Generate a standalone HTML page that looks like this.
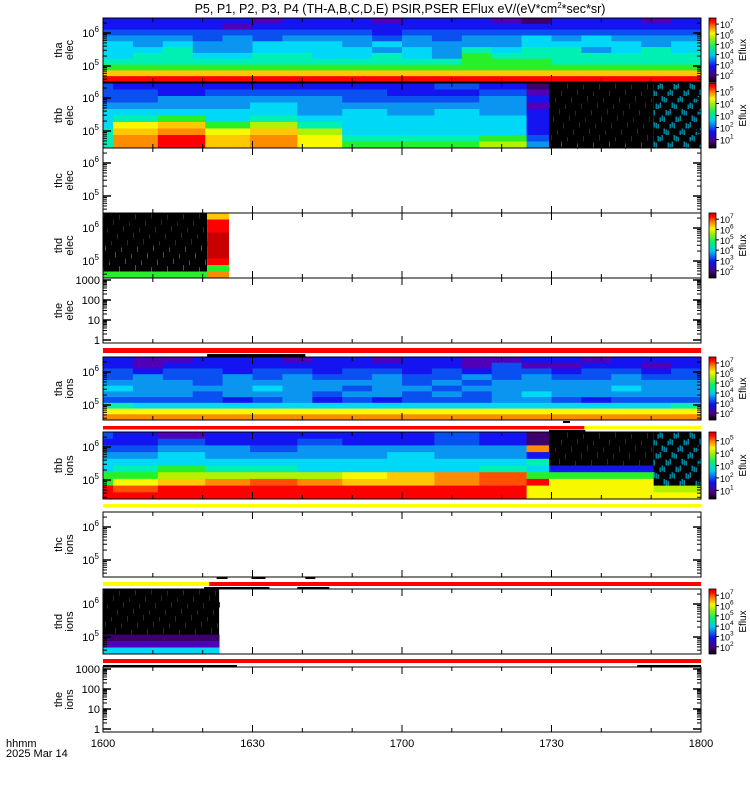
<!DOCTYPE html>
<html><head><meta charset="utf-8">
<style>
html,body{margin:0;padding:0;background:#fff;}
svg{display:block;font-family:"Liberation Sans",sans-serif;}
</style></head>
<body>
<svg id="chart" width="750" height="800" viewBox="0 0 750 800" xmlns="http://www.w3.org/2000/svg">
<rect x="0" y="0" width="750" height="800" fill="#fff"/>
<text x="400" y="13" font-size="12.5" text-anchor="middle" fill="#000">P5, P1, P2, P3, P4 (TH-A,B,C,D,E) PSIR,PSER EFlux eV/(eV*cm<tspan font-size="8" dy="-5">2</tspan><tspan dy="5">*sec*sr)</tspan></text>
</svg>
<script>
// ---- data arrays ----
const xTickLabels = ["1600","1630","1700","1730","1800"];
const xTickMinutes = [0,30,60,90,120];
const panelNames = [["tha","elec"],["thb","elec"],["thc","elec"],["thd","elec"],["the","elec"],["tha","ions"],["thb","ions"],["thc","ions"],["thd","ions"],["the","ions"]];
const edges20 = [0,6,12,18,24,30,36,42,48,54,60,66,72,78,84,90,96,102,108,114,120];
const edgesB = [0,2,11,20.5,29.5,39,48,57,66.5,75.5,85,89.5,110.5,120];
const edgesD = [0,20.9,25.2];
const edgesDI = [0,23.3];
const thaElecRows = [
"33333233323332133323",
"33332333333333333333",
"44444444434444444444",
"55545455545455656555",
"65655666565555666656",
"66755666656576775676",
"67766776676587777777",
"77777777777788877777",
"88888888888888888888",
"bbbbbbbbbbbbbbbbbbbb",
"eeeeeeeeeeeeeeeeeeee"];
const thbElecRows = [
"43333333431zx",
"44344443342zx",
"44555544453zx",
"55556555552zx",
"66666565653zx",
"67867666663zx",
"6ab89766663zx",
"7bcab966663zx",
"7cebca77784zx",
"7cebca88895yx"];
const thdElecRows = ["zb","ze","ze","zf","zf","yf","yf","ye","y8","8c"];
const thaIonRows = [
"32233323323322332333",
"32333333333324223323",
"43443443443434434434",
"45445454454454544544",
"55545555554545555555",
"65555655455455555655",
"55545554554545655555",
"44443453434445543444",
"76666666666666666667",
"aaaaaaaaaaaaaaaaaaaa",
"cccccccccccccccccccc"];
const thbIonRows = [
"43233333431zx",
"33433433431zx",
"4455455555czx",
"55655556553zx",
"66666666667zx",
"67877666676wx",
"889999abcd88x",
"8abcdcbbcdeax",
"edeeeeeeeeaa9",
"eeeeeeeeeeaaa"];
const thdIonRows = ["z","z","z","z","z","z","z","1","2","6"];
const cbElecA = [2,3,4,5,6,7], cbElecB = [1,2,3,4,5];
const logTicks = [1,10,100,1000];
// ---- layout ----
const X0=103, X1=701;
const xs = m => X0 + (X1-X0)*m/120;
const panels = [
 {y:18,h:64,type:"spec",rows:thaElecRows,edges:edges20,cb:{exps:cbElecA,top:7.6,bot:1.3}},
 {y:83,h:65,type:"spec",rows:thbElecRows,edges:edgesB,cb:{exps:cbElecB,top:5.7,bot:0.3}},
 {y:148,h:65,type:"spec",rows:null},
 {y:213,h:65,type:"spec",rows:thdElecRows,edges:edgesD,cb:{exps:cbElecA,top:7.6,bot:1.3}},
 {y:278,h:65,type:"line"},
 {y:357,h:63,type:"spec",rows:thaIonRows,edges:edges20,cb:{exps:cbElecA,top:7.6,bot:1.3}},
 {y:432,h:67,type:"spec",rows:thbIonRows,edges:edgesB,cb:{exps:cbElecB,top:5.7,bot:0.3}},
 {y:512,h:65,type:"spec",rows:null},
 {y:589,h:65,type:"spec",rows:thdIonRows,edges:edgesDI,cb:{exps:cbElecA,top:7.6,bot:1.3}},
 {y:667,h:65,type:"line"}];
const pal={'0':'#000000','1':'#3c0068','2':'#5000b8','3':'#1414f0','4':'#0a50f0','5':'#0a96f0','6':'#00d8f8','7':'#00f0b4','8':'#28f028','9':'#b4f000','a':'#f8f800','b':'#ffc800','c':'#ff8c00','d':'#ff5000','e':'#ff0000','f':'#c80000','w':'#1414f0'};
const streak={'z':'#4a0a80','x':'#00c8f0','y':'#1050f0'};
const NS="http://www.w3.org/2000/svg";
const svg=document.getElementById('chart');
function el(tag,attrs,parent){const e=document.createElementNS(NS,tag);for(const k in attrs)e.setAttribute(k,attrs[k]);(parent||svg).appendChild(e);return e;}
function supLabel(x,y,base,exp,anchor,parent,fs,ss){
 const t=el('text',{x:x,y:y,'font-size':fs||11,'text-anchor':anchor,fill:'#000'},parent);
 t.appendChild(document.createTextNode(base));
 const s=el('tspan',{'font-size':ss||8,dy:-5},t);s.textContent=exp;return t;}
// strips
const strips=[
 [348,5,0,120,'#ff0000'],[354,2.5,20.9,40.6,'#000'],
 [426,3.5,0,96.6,'#ff0000'],[426,3.5,96.6,120,'#ffff00'],[421,2,92.3,93.7,'#000'],[430,2,89.5,96.8,'#000'],
 [504,3.5,0,120,'#ffff00'],[577,2,22.8,25,'#000'],[577,2,29.8,32.6,'#000'],[577,2,40.6,42.6,'#000'],
 [582,4,0,21.3,'#ffff00'],[582,4,21.3,120,'#ff0000'],[587,2,20.3,33.4,'#000'],[587,2,39,45.4,'#000'],
 [659,4,0,120,'#ff0000'],[665,2,0,26.9,'#000'],[665,2,107.2,120,'#000']];
const sg=el('g',{});


strips.forEach(s=>{const r=el('rect',{x:xs(s[2]),y:s[0],width:xs(s[3])-xs(s[2]),height:s[1],fill:s[4]},sg);
 
 });
panels.forEach((p,pi)=>{
 const g=el('g',{});
 
 
 if(p.rows){
  const n=p.rows.length, rh=p.h/n;
  p.rows.forEach((row,ri)=>{
   for(let c=0;c<row.length;c++){
    const ch=row[c], xa=xs(p.edges[c]), xb=xs(p.edges[c+1]), ya=p.y+ri*rh;
    if(streak[ch]){
     el('rect',{x:xa,y:ya,width:xb-xa,height:rh+0.5,fill:'#000'},g);
     const dens = ch==='x'?3:1;
     for(let k=0;xa+k*2<xb;k++){ if(((k*7+ri*5+c*3)%8)<dens){el('rect',{x:xa+k*2,y:ya+((k+ri)%3),width:1,height:rh-1,fill:streak[ch]},g);} }
    } else {
     const r=el('rect',{x:xa,y:ya,width:xb-xa+0.4,height:rh+0.5,fill:pal[ch]},g);
     
     
    }
   }});
 }
 el('rect',{x:X0,y:p.y,width:X1-X0,height:p.h,fill:'none',stroke:'#000','stroke-width':1},g);
 for(let m=0;m<=120;m+=10){const x=xs(m),L=(m%30===0)?7:4;
  el('line',{x1:x,x2:x,y1:p.y+p.h,y2:p.y+p.h-L,stroke:'#000'},g);
  el('line',{x1:x,x2:x,y1:p.y,y2:p.y+L,stroke:'#000'},g);}
 if(p.type==='spec'){
  const dec=33, y6=p.y+15, y5=p.y+48;
  [[y6,'10','6'],[y5,'10','5']].forEach(t=>{supLabel(X0-4,t[0]+4,t[1],t[2],'end',g);
   el('line',{x1:X0,x2:X0+8,y1:t[0],y2:t[0],stroke:'#000','stroke-width':1.5},g);
   el('line',{x1:X1,x2:X1-8,y1:t[0],y2:t[0],stroke:'#000','stroke-width':1.5},g);});
  [[y6,1],[y5,1],[y5+dec,0]].forEach(b=>{for(let k=2;k<=9;k++){const yy=b[0]-dec*Math.log10(k);
   if(yy>p.y+1&&yy<p.y+p.h-1){el('line',{x1:X0,x2:X0+4,y1:yy,y2:yy,stroke:'#000'},g);el('line',{x1:X1,x2:X1-4,y1:yy,y2:yy,stroke:'#000'},g);}}});
 } else {
  const yOf=v=>p.y+p.h-3-20*Math.log10(v);
  logTicks.forEach(v=>{const yy=yOf(v);
   const t=el('text',{x:X0-3,y:yy+4,'font-size':11,'text-anchor':'end',fill:'#000'},g);t.textContent=String(v);
   el('line',{x1:X0,x2:X0+8,y1:yy,y2:yy,stroke:'#000','stroke-width':1.5},g);
   el('line',{x1:X1,x2:X1-8,y1:yy,y2:yy,stroke:'#000','stroke-width':1.5},g);
   for(let k=2;k<=9;k++){const ym=yOf(v*k);if(ym>p.y){el('line',{x1:X0,x2:X0+4,y1:ym,y2:ym,stroke:'#000'},g);el('line',{x1:X1,x2:X1-4,y1:ym,y2:ym,stroke:'#000'},g);}}});
 }
 const cy=p.y+p.h/2;
 const lt=el('text',{transform:`translate(62,${cy}) rotate(-90)`,'font-size':11,'text-anchor':'middle',fill:'#000'},g);lt.textContent=panelNames[pi][0];
 const lt2=el('text',{transform:`translate(73,${cy}) rotate(-90)`,'font-size':11,'text-anchor':'middle',fill:'#000'},g);lt2.textContent=panelNames[pi][1];
 if(p.cb){
  const cg=el('g',{},g);
  
  
  const id='grad'+pi;
  const lg=el('linearGradient',{id:id,x1:0,y1:1,x2:0,y2:0},cg);
  [['0','#000'],['0.1','#4a0080'],['0.25','#1010f0'],['0.42','#00c8f0'],['0.55','#00f070'],['0.68','#a0f000'],['0.76','#f8f800'],['0.86','#ff8000'],['0.95','#ff0000'],['1','#d00000']].forEach(s=>el('stop',{offset:s[0],'stop-color':s[1]},lg));
  el('rect',{x:709,y:p.y,width:7,height:p.h,fill:`url(#${id})`,stroke:'#000','stroke-width':0.8},cg);
  const yc=e=>p.y+p.h*(p.cb.top-e)/(p.cb.top-p.cb.bot);
  p.cb.exps.forEach(e=>{const yy=yc(e);el('line',{x1:716,x2:719,y1:yy,y2:yy,stroke:'#000'},cg);supLabel(720,yy+4,'10',String(e),'start',cg,9,6.5);});
  const et=el('text',{transform:`translate(746,${cy}) rotate(-90)`,'font-size':10,'text-anchor':'middle',fill:'#000'},cg);et.textContent='Eflux';
 }
});
xTickMinutes.forEach((m,i)=>{const t=el('text',{x:xs(m),y:747,'font-size':11,'text-anchor':'middle',fill:'#000'});
 
 
 t.textContent=xTickLabels[i];});
const h1=el('text',{x:6,y:747,'font-size':11,fill:'#000'});h1.textContent='hhmm';


const h2=el('text',{x:6,y:757,'font-size':11,fill:'#000'});h2.textContent='2025 Mar 14';


</script>
</body></html>
